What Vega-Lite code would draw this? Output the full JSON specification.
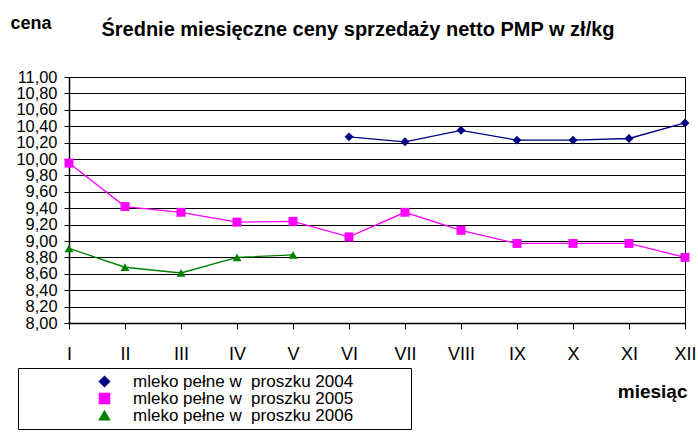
{
  "$schema": "https://vega.github.io/schema/vega-lite/v6.json",
  "autosize": "none",
  "width": 616,
  "height": 246,
  "padding": {"left": 69, "top": 77, "right": 13, "bottom": 117},
  "background": "white",
  "title": {
    "text": "Średnie miesięczne ceny sprzedaży netto PMP w zł/kg",
    "font": "Liberation Sans",
    "fontSize": 20,
    "fontWeight": "bold",
    "color": "black",
    "anchor": "middle",
    "dx": -19,
    "offset": -42,
    "baseline": "alphabetic"
  },
  "config": {
    "view": {"stroke": "black", "strokeWidth": 1},
    "axis": {"labelFont": "Liberation Sans", "titleFont": "Liberation Sans", "labelColor": "black", "titleColor": "black"}
  },
  "data": {
    "values": [
      {"m": "VI", "s": "mleko pełne w  proszku 2004", "v": 10.27},
      {"m": "VII", "s": "mleko pełne w  proszku 2004", "v": 10.21},
      {"m": "VIII", "s": "mleko pełne w  proszku 2004", "v": 10.35},
      {"m": "IX", "s": "mleko pełne w  proszku 2004", "v": 10.23},
      {"m": "X", "s": "mleko pełne w  proszku 2004", "v": 10.23},
      {"m": "XI", "s": "mleko pełne w  proszku 2004", "v": 10.25},
      {"m": "XII", "s": "mleko pełne w  proszku 2004", "v": 10.44},
      {"m": "I", "s": "mleko pełne w  proszku 2005", "v": 9.95},
      {"m": "II", "s": "mleko pełne w  proszku 2005", "v": 9.42},
      {"m": "III", "s": "mleko pełne w  proszku 2005", "v": 9.35},
      {"m": "IV", "s": "mleko pełne w  proszku 2005", "v": 9.23},
      {"m": "V", "s": "mleko pełne w  proszku 2005", "v": 9.24},
      {"m": "VI", "s": "mleko pełne w  proszku 2005", "v": 9.05},
      {"m": "VII", "s": "mleko pełne w  proszku 2005", "v": 9.35},
      {"m": "VIII", "s": "mleko pełne w  proszku 2005", "v": 9.13},
      {"m": "IX", "s": "mleko pełne w  proszku 2005", "v": 8.97},
      {"m": "X", "s": "mleko pełne w  proszku 2005", "v": 8.97},
      {"m": "XI", "s": "mleko pełne w  proszku 2005", "v": 8.97},
      {"m": "XII", "s": "mleko pełne w  proszku 2005", "v": 8.80},
      {"m": "I", "s": "mleko pełne w  proszku 2006", "v": 8.91},
      {"m": "II", "s": "mleko pełne w  proszku 2006", "v": 8.68},
      {"m": "III", "s": "mleko pełne w  proszku 2006", "v": 8.61},
      {"m": "IV", "s": "mleko pełne w  proszku 2006", "v": 8.80},
      {"m": "V", "s": "mleko pełne w  proszku 2006", "v": 8.83}
    ]
  },
  "encoding": {
    "x": {
      "field": "m", "type": "ordinal",
      "scale": {"type": "point", "padding": 0, "domain": ["I","II","III","IV","V","VI","VII","VIII","IX","X","XI","XII"]},
      "axis": {
        "title": "miesiąc", "titleFontSize": 19, "titleFontWeight": "bold",
        "titleX": 618, "titleY": 74, "titleAlign": "right", "titleAnchor": "end", "titleBaseline": "alphabetic",
        "labelAngle": 0, "labelFontSize": 18, "labelPadding": 16, "tickSize": 6, "tickColor": "black",
        "domainColor": "black", "domainWidth": 1.5, "grid": false
      }
    },
    "y": {
      "field": "v", "type": "quantitative",
      "scale": {"domain": [8, 11], "nice": false, "zero": false},
      "axis": {
        "title": "cena", "titleFontSize": 18, "titleFontWeight": "bold", "titleAngle": 0,
        "titleX": -59, "titleY": -49, "titleAlign": "left", "titleBaseline": "alphabetic",
        "values": [8, 8.2, 8.4, 8.6, 8.8, 9, 9.2, 9.4, 9.6, 9.8, 10, 10.2, 10.4, 10.6, 10.8, 11],
        "labelExpr": "replace(format(datum.value, '.2f'), '.', ',')",
        "labelOverlap": false,
        "labelFontSize": 16.4, "labelPadding": 7, "tickSize": 5, "tickColor": "black",
        "domainColor": "black", "domainWidth": 1.5,
        "grid": true, "gridColor": "black", "gridWidth": 1, "gridOpacity": 1
      }
    }
  },
  "layer": [
    {
      "mark": {"type": "line", "strokeWidth": 1.3},
      "encoding": {
        "color": {"field": "s", "type": "nominal",
          "scale": {"domain": ["mleko pełne w  proszku 2004", "mleko pełne w  proszku 2005", "mleko pełne w  proszku 2006"], "range": ["#000080", "#FF00FF", "#008000"]}}
      }
    },
    {
      "mark": {"type": "point", "filled": true, "opacity": 1, "size": 80},
      "encoding": {
        "color": {"field": "s", "type": "nominal",
          "scale": {"domain": ["mleko pełne w  proszku 2004", "mleko pełne w  proszku 2005", "mleko pełne w  proszku 2006"], "range": ["#000080", "#FF00FF", "#008000"]},
          "legend": {
            "orient": "none", "legendX": -51, "legendY": 291, "direction": "vertical", "title": null,
            "strokeColor": "black", "padding": 5, "symbolSize": 100, "symbolOffset": 73, "labelOffset": 20,
            "labelFont": "Liberation Sans", "labelFontSize": 17, "labelColor": "black", "labelLimit": 0, "rowPadding": -1.5,
            "labelExpr": "replace(datum.label, '  ', ' \u00a0') + '\u00a0\u00a0\u00a0\u00a0\u00a0\u00a0\u00a0\u00a0\u00a0\u00a0\u00a0\u200b'"
          }
        },
        "shape": {"field": "s", "type": "nominal",
          "scale": {"domain": ["mleko pełne w  proszku 2004", "mleko pełne w  proszku 2005", "mleko pełne w  proszku 2006"], "range": ["diamond", "square", "triangle-up"]}}
      }
    }
  ]
}
